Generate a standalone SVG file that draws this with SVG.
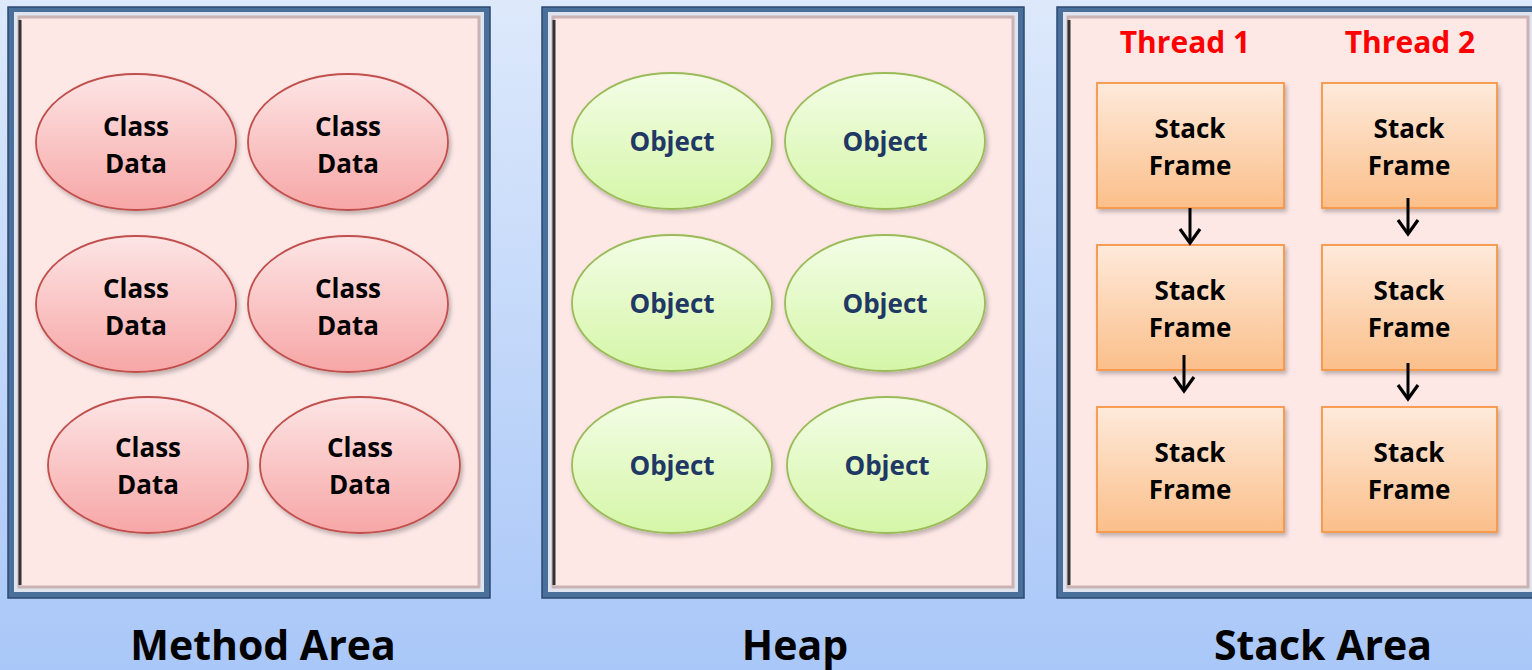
<svg xmlns="http://www.w3.org/2000/svg" width="1532" height="670" viewBox="0 0 1532 670">
<defs>
<linearGradient id="bg" x1="0" y1="0" x2="0" y2="1"><stop offset="0" stop-color="#dde9fb"/><stop offset="1" stop-color="#a9c7f8"/></linearGradient>
<linearGradient id="red" x1="0" y1="0" x2="0" y2="1"><stop offset="0" stop-color="#fde5e5"/><stop offset="1" stop-color="#f7a6a6"/></linearGradient>
<linearGradient id="green" x1="0" y1="0" x2="0" y2="1"><stop offset="0" stop-color="#f3fde6"/><stop offset="1" stop-color="#d5f6a8"/></linearGradient>
<linearGradient id="orange" x1="0" y1="0" x2="0" y2="1"><stop offset="0" stop-color="#feeadb"/><stop offset="1" stop-color="#fbbf8a"/></linearGradient>
<filter id="sh" x="-10%" y="-10%" width="130%" height="130%"><feDropShadow dx="2" dy="3" stdDeviation="2" flood-color="#000" flood-opacity="0.25"/></filter>
<marker id="ah" viewBox="0 0 20 24" refX="17" refY="12" markerWidth="20" markerHeight="24" markerUnits="userSpaceOnUse" orient="auto"><path d="M3,2 L17,12 L3,22" fill="none" stroke="#000" stroke-width="3.2" stroke-linejoin="miter"/></marker>
</defs>
<style>
.frame{fill:#4a6f9a;stroke:#2d4a70;stroke-width:1.5}
.inner{fill:#fde8e6;stroke:#c9b3b3;stroke-width:3}
.edgeL{stroke:#333;stroke-width:3}
.cls{fill:url(#red);stroke:#c0504d;stroke-width:1.8}
.obj{fill:url(#green);stroke:#9bbb59;stroke-width:1.8}
.sf{fill:url(#orange);stroke:#f79646;stroke-width:1.8}
.t{font-family:"Open Sans",Lato,"Liberation Sans",sans-serif;font-weight:bold;text-anchor:middle}
.ct{font-size:26px;fill:#000}
.ot{font-size:26px;fill:#1f3864}
.th{font-size:30px;fill:#ff0000}
.title{font-size:41px;fill:#000}
.conn line{stroke:#000;stroke-width:3;marker-end:url(#ah)}
</style>
<rect width="1532" height="670" fill="url(#bg)"/>

<g id="method-area">
<rect class="frame" x="8" y="7" width="482" height="591"/>
<rect x="14" y="12" width="470" height="580" fill="#dfe4ee"/>
<rect class="inner" x="19" y="17" width="460" height="570"/>
<line class="edgeL" x1="20" y1="20" x2="20" y2="585"/>
<text class="t title" x="263" y="660">Method Area</text>
</g>
<g id="heap">
<rect class="frame" x="542" y="7" width="482" height="591"/>
<rect x="548" y="12" width="470" height="580" fill="#dfe4ee"/>
<rect class="inner" x="553" y="17" width="460" height="570"/>
<line class="edgeL" x1="554" y1="20" x2="554" y2="585"/>
<text class="t title" x="795" y="660">Heap</text>
</g>
<g id="stack-area">
<rect class="frame" x="1057" y="7" width="482" height="591"/>
<rect x="1063" y="12" width="470" height="580" fill="#dfe4ee"/>
<rect class="inner" x="1068" y="17" width="460" height="570"/>
<line class="edgeL" x1="1069" y1="20" x2="1069" y2="585"/>
<text class="t title" x="1323" y="660">Stack Area</text>
<text class="t th" x="1185" y="53">Thread 1</text>
<text class="t th" x="1410" y="53">Thread 2</text>
</g>

<g id="class-data-1"><ellipse class="cls" cx="136" cy="142" rx="100" ry="68" filter="url(#sh)"/><text class="t ct" x="136" y="136">Class</text><text class="t ct" x="136" y="173">Data</text></g>
<g id="class-data-2"><ellipse class="cls" cx="348" cy="142" rx="100" ry="68" filter="url(#sh)"/><text class="t ct" x="348" y="136">Class</text><text class="t ct" x="348" y="173">Data</text></g>
<g id="class-data-3"><ellipse class="cls" cx="136" cy="304" rx="100" ry="68" filter="url(#sh)"/><text class="t ct" x="136" y="298">Class</text><text class="t ct" x="136" y="335">Data</text></g>
<g id="class-data-4"><ellipse class="cls" cx="348" cy="304" rx="100" ry="68" filter="url(#sh)"/><text class="t ct" x="348" y="298">Class</text><text class="t ct" x="348" y="335">Data</text></g>
<g id="class-data-5"><ellipse class="cls" cx="148" cy="465" rx="100" ry="68" filter="url(#sh)"/><text class="t ct" x="148" y="457">Class</text><text class="t ct" x="148" y="494">Data</text></g>
<g id="class-data-6"><ellipse class="cls" cx="360" cy="465" rx="100" ry="68" filter="url(#sh)"/><text class="t ct" x="360" y="457">Class</text><text class="t ct" x="360" y="494">Data</text></g>

<g id="object-1"><ellipse class="obj" cx="672" cy="141" rx="100" ry="68" filter="url(#sh)"/><text class="t ot" x="672" y="151">Object</text></g>
<g id="object-2"><ellipse class="obj" cx="885" cy="141" rx="100" ry="68" filter="url(#sh)"/><text class="t ot" x="885" y="151">Object</text></g>
<g id="object-3"><ellipse class="obj" cx="672" cy="303" rx="100" ry="68" filter="url(#sh)"/><text class="t ot" x="672" y="313">Object</text></g>
<g id="object-4"><ellipse class="obj" cx="885" cy="303" rx="100" ry="68" filter="url(#sh)"/><text class="t ot" x="885" y="313">Object</text></g>
<g id="object-5"><ellipse class="obj" cx="672" cy="465" rx="100" ry="68" filter="url(#sh)"/><text class="t ot" x="672" y="475">Object</text></g>
<g id="object-6"><ellipse class="obj" cx="887" cy="465" rx="100" ry="68" filter="url(#sh)"/><text class="t ot" x="887" y="475">Object</text></g>

<g id="t1-frame-1"><rect class="sf" x="1097" y="83" width="187" height="125" filter="url(#sh)"/><text class="t ct" x="1190" y="138">Stack</text><text class="t ct" x="1190" y="175">Frame</text></g>
<g id="t1-frame-2"><rect class="sf" x="1097" y="245" width="187" height="125" filter="url(#sh)"/><text class="t ct" x="1190" y="300">Stack</text><text class="t ct" x="1190" y="337">Frame</text></g>
<g id="t1-frame-3"><rect class="sf" x="1097" y="407" width="187" height="125" filter="url(#sh)"/><text class="t ct" x="1190" y="462">Stack</text><text class="t ct" x="1190" y="499">Frame</text></g>
<g id="t2-frame-1"><rect class="sf" x="1322" y="83" width="175" height="125" filter="url(#sh)"/><text class="t ct" x="1409" y="138">Stack</text><text class="t ct" x="1409" y="175">Frame</text></g>
<g id="t2-frame-2"><rect class="sf" x="1322" y="245" width="175" height="125" filter="url(#sh)"/><text class="t ct" x="1409" y="300">Stack</text><text class="t ct" x="1409" y="337">Frame</text></g>
<g id="t2-frame-3"><rect class="sf" x="1322" y="407" width="175" height="125" filter="url(#sh)"/><text class="t ct" x="1409" y="462">Stack</text><text class="t ct" x="1409" y="499">Frame</text></g>

<g id="connectors" class="conn">
<line x1="1190" y1="208" x2="1190" y2="243"/>
<line x1="1184" y1="355" x2="1184" y2="391"/>
<line x1="1408" y1="198" x2="1408" y2="234"/>
<line x1="1408" y1="363" x2="1408" y2="399"/>
</g>
</svg>
